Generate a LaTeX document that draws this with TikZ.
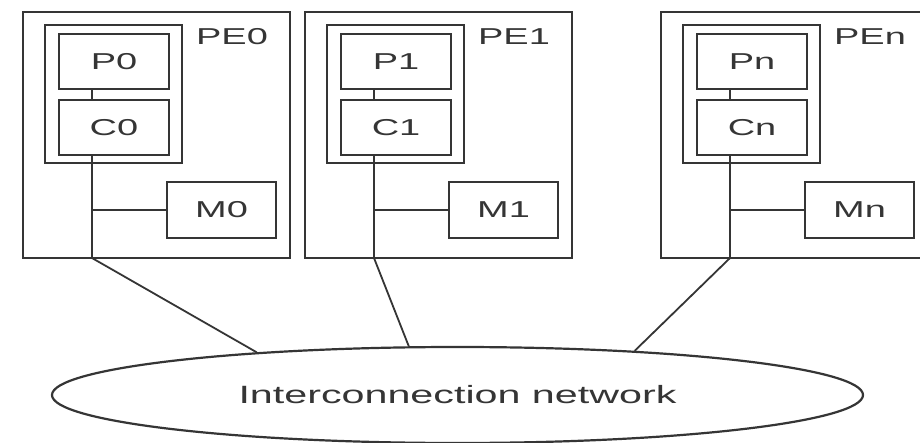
\documentclass[tikz,border=0pt]{standalone}
\usepackage{fontspec}
\setmainfont{Liberation Sans}
\newfontfamily\widefont[FakeStretch=1.65]{Liberation Sans}
\usetikzlibrary{shapes.geometric, positioning}
\definecolor{inkgray}{HTML}{353535}

\tikzset{
  box/.style={draw=inkgray, line width=2.2pt, inner sep=0pt, text=inkgray,
    font=\widefont\fontsize{23}{27}\selectfont},
  pebox/.style={box, minimum width=267pt, minimum height=246pt},
  frame/.style={box, minimum width=137pt, minimum height=138pt},
  unit/.style={box, minimum width=110pt, minimum height=55pt},
  mem/.style={box, minimum width=109pt, minimum height=56pt},
  wire/.style={draw=inkgray, line width=1.8pt},
}

\begin{document}
\begin{tikzpicture}[x=1pt, y=-1pt]
    \fill[white] (0,0) rectangle (920,443);
    \useasboundingbox (0,0) rectangle (920,443);

    % the network at the bottom
    \node[box, ellipse, minimum width=811pt, minimum height=96pt,
      font=\widefont\fontsize{25}{30}\selectfont] (net) at (457.5,395) {Interconnection network};

    % one processing element per entry: name / x shift / angle on the ellipse
    \foreach \i/\off/\ang in {0/0/168, 1/282/135, n/638/14.2}{
    \node[pebox] (pe\i) at (\off+156.5,135) {};
    \node[frame] (fr\i) at (\off+113.5,94) {};
    \node[unit] (p\i) at (\off+114,61.5) {P\i};
    \node[unit] (c\i) at (\off+114,127.5) {C\i};
    \node[mem] (m\i) at (\off+221.5,210) {M\i};
    \path (\off+232,37) node[text=inkgray, font=\widefont\fontsize{23}{27}\selectfont] (lbl\i) {PE\i};
    \coordinate (bus\i) at (\off+92,258);
    % links: access them as bus0, bus1, busn
    \draw[wire] (p\i.south -| bus\i) -- (c\i.north -| bus\i);
    \draw[wire] (c\i.south -| bus\i) -- (bus\i) -- (net.\ang);
    \draw[wire] (m\i.west) -- (m\i.west -| bus\i);
    }
\end{tikzpicture}
\end{document}
